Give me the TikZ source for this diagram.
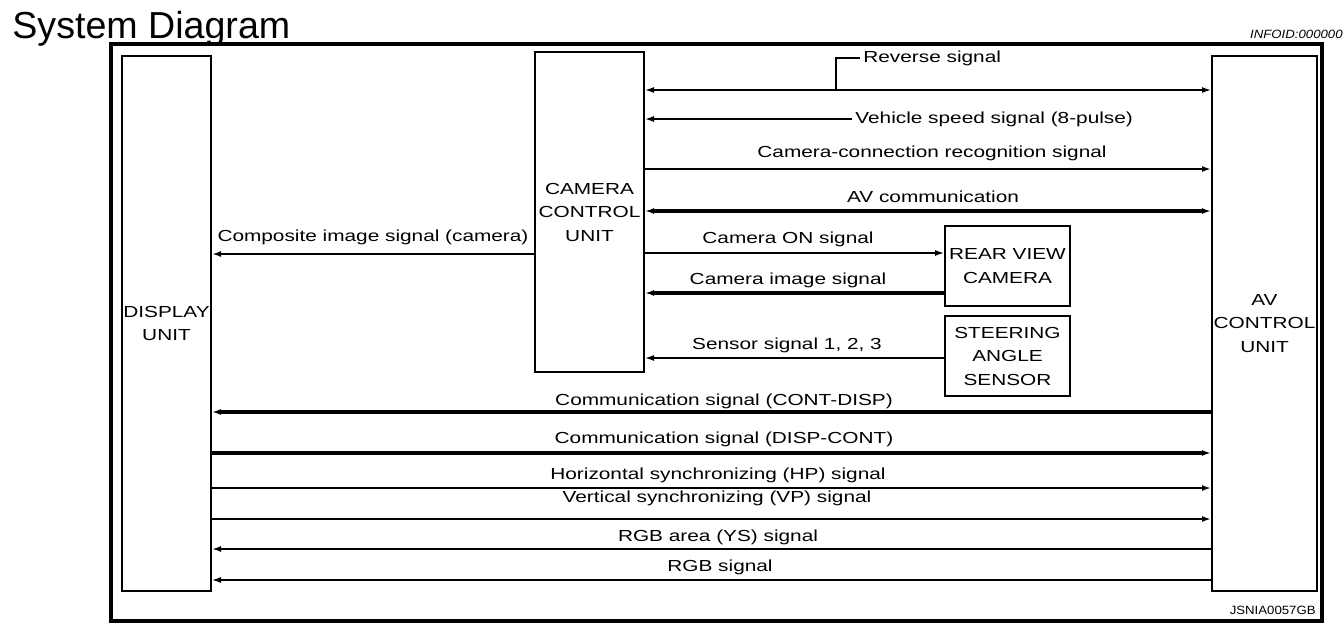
\documentclass[tikz,border=0pt]{standalone}
\usepackage{fontspec}
\setmainfont{Liberation Sans}
\newfontfamily\lblfont[FakeStretch=1.3]{Liberation Sans}
\newfontfamily\tagfont[FakeStretch=1.1]{Liberation Sans}
\usetikzlibrary{arrows.meta}
\tikzset{>={Latex[width=3pt,length=4.5pt]}}
\tikzset{
  unit/.style={draw, line width=1pt, inner sep=0pt, align=center,
    font=\lblfont\fontsize{8}{11.75}\selectfont},
  lbl/.style={inner xsep=1.5pt, inner ysep=0pt,
    font=\lblfont\fontsize{8}{11.75}\selectfont},
  sig/.style={line width=0.7pt},
  sigmid/.style={line width=1pt},
  sigthick/.style={line width=1.6pt}
}

\begin{document}
\begin{tikzpicture}[x=0.5pt,y=-0.5pt]

  \useasboundingbox (0,0) rectangle (1344,634);

  \node[anchor=base west, inner sep=0pt, font=\fontsize{18.8}{21}\selectfont]
  (title) at (12,38) {System Diagram};
  \node[anchor=base east, inner sep=0pt, font=\tagfont\itshape\fontsize{6}{7}\selectfont]
  (infoid) at (1343,38) {INFOID:000000};
  \node[anchor=base east, inner sep=0pt, font=\tagfont\fontsize{6}{7}\selectfont]
  (jsnia) at (1316,614) {JSNIA0057GB};

  \draw[line width=2.2pt] (111,44) rectangle (1322,621);

  %% units
  \node[unit, minimum width=44.5pt, minimum height=267.5pt]
  (disp) at (166.5,323.5) {DISPLAY\\UNIT};
  \node[unit, minimum width=54.5pt, minimum height=160pt]
  (ccu) at (589.5,212) {CAMERA\\CONTROL\\UNIT};
  \node[unit, minimum width=52.5pt, minimum height=267.5pt]
  (avcu) at (1264.5,323.5) {AV\\CONTROL\\UNIT};
  \node[unit, minimum width=62.5pt, minimum height=40pt]
  (rvc) at (1007.5,266) {REAR VIEW\\CAMERA};
  \node[unit, minimum width=62.5pt, minimum height=40pt]
  (sas) at (1007.5,356) {STEERING\\ANGLE\\SENSOR};

  %% ccu <-> av
  \draw[<->, sig] (ccu.east |- 0,90) -- (avcu.west |- 0,90);
  \coordinate (revtap) at (836,90);
  \node[lbl, anchor=west] (revlbl) at (860,58) {Reverse signal};
  \draw[sig] (revtap) |- (revlbl.west);

  \node[lbl, anchor=west] (vsslbl) at (852,119) {Vehicle speed signal (8-pulse)};
  \draw[->, sig] (vsslbl.west) -- (ccu.east |- vsslbl.west);

  \draw[->, sigmid] (ccu.east |- 0,169) -- (avcu.west |- 0,169);
  \node[lbl] (cclbl) at (932,153) {Camera-connection recognition signal};

  \draw[<->, sigthick] (ccu.east |- 0,211) -- (avcu.west |- 0,211);
  \node[lbl] (avclbl) at (933,197) {AV communication};

  %% ccu <-> camera, sensor
  \draw[->, sig] (ccu.east |- 0,253) -- (rvc.west |- 0,253);
  \node[lbl] (conlbl) at (788,239) {Camera ON signal};

  \draw[->, sigthick] (rvc.west |- 0,293) -- (ccu.east |- 0,293);
  \node[lbl] (imglbl) at (788,280) {Camera image signal};

  \draw[->, sig] (sas.west |- 0,358) -- (ccu.east |- 0,358);
  \node[lbl] (senlbl) at (787,345) {Sensor signal 1, 2, 3};

  %% ccu -> display
  \draw[->, sigmid] (ccu.west |- 0,254) -- (disp.east |- 0,254);
  \node[lbl] (complbl) at (373,237) {Composite image signal (camera)};

  %% display <-> av
  \draw[->, sigthick] (avcu.west |- 0,412) -- (disp.east |- 0,412);
  \node[lbl] (cdlbl) at (724,401) {Communication signal (CONT-DISP)};

  \draw[->, sigthick] (disp.east |- 0,453) -- (avcu.west |- 0,453);
  \node[lbl] (dclbl) at (724,439) {Communication signal (DISP-CONT)};

  \draw[->, sigmid] (disp.east |- 0,488) -- (avcu.west |- 0,488);
  \node[lbl] (hplbl) at (718,475) {Horizontal synchronizing (HP) signal};

  \draw[->, sigmid] (disp.east |- 0,519) -- (avcu.west |- 0,519);
  \node[lbl] (vplbl) at (717,498) {Vertical synchronizing (VP) signal};

  \draw[->, sigmid] (avcu.west |- 0,549) -- (disp.east |- 0,549);
  \node[lbl] (yslbl) at (718,537) {RGB area (YS) signal};

  \draw[->, sig] (avcu.west |- 0,580) -- (disp.east |- 0,580);
  \node[lbl] (rgblbl) at (720,567) {RGB signal};

\end{tikzpicture}
\end{document}
